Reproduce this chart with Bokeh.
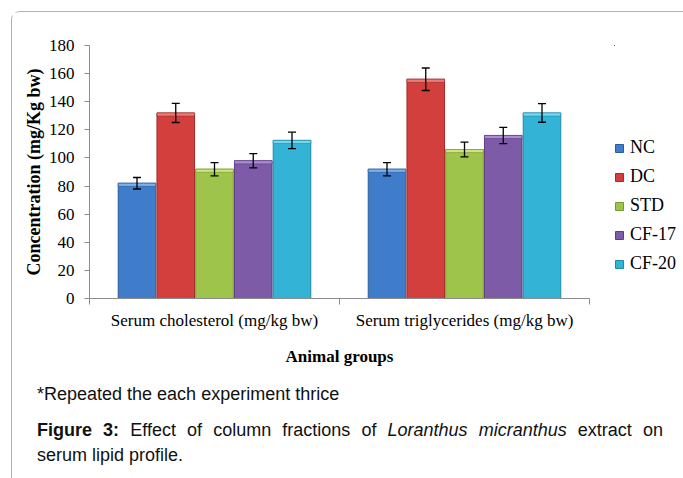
from bokeh.plotting import figure
from bokeh.layouts import column, row
from bokeh.models import (Range1d, FixedTicker, ColumnDataSource, Div,
                          Whisker, TeeHead, Legend, LegendItem)
from bokeh.transform import dodge
from bokeh.embed import file_html
from bokeh.resources import INLINE

# ---- data ----
categories = ["Serum cholesterol (mg/kg bw)", "Serum triglycerides (mg/kg bw)"]
groups = ["NC", "DC", "STD", "CF-17", "CF-20"]
cholesterol = [82, 132, 92, 98, 112.5]
triglycerides = [92, 156, 106, 116, 132]
cholesterol_err = [4.1, 6.8, 4.7, 5.1, 5.8]
triglycerides_err = [4.7, 8.0, 5.3, 5.8, 6.6]
y_ticks = [0, 20, 40, 60, 80, 100, 120, 140, 160, 180]

colors = ["#3F7DCB", "#D33F3C", "#9EC44B", "#7E5BA7", "#33B4D6"]
caps = ["#7DB2EE", "#EC7C78", "#CFE57A", "#AE8BD6", "#79D8F0"]
edges = ["#2B5C9C", "#A32C2A", "#769A33", "#5C3F82", "#1F8AA6"]

SERIF = "Liberation Serif"
SANS = "Liberation Sans"

BAR_W = 0.155  # width of one bar in category units

cat_pos = [i + 0.5 for i in range(len(categories))]

p = figure(width=602, height=358, x_range=Range1d(0, len(categories)), y_range=Range1d(0, 180),
           output_backend="svg", toolbar_location=None,
           min_border_left=77, min_border_right=25, min_border_top=33, min_border_bottom=72)
p.outline_line_color = None
p.xgrid.visible = False
p.ygrid.visible = False
p.background_fill_color = "white"
p.border_fill_color = "white"

# y axis
ya = p.yaxis[0]
ya.ticker = FixedTicker(ticks=y_ticks)
ya.axis_label = "Concentration (mg/Kg bw)"
ya.axis_label_text_font = SERIF
ya.axis_label_text_font_style = "bold"
ya.axis_label_text_font_size = "18px"
ya.axis_label_text_color = "black"
ya.axis_label_standoff = 2
ya.major_label_text_font = SERIF
ya.major_label_text_font_size = "17px"
ya.major_label_text_color = "black"
ya.major_label_standoff = 10
ya.major_tick_out = 5
ya.major_tick_in = 0
ya.minor_tick_line_color = None
ya.axis_line_color = "#8C8C8C"
ya.major_tick_line_color = "#8C8C8C"

# x axis: labels at category centres, separator ticks at boundaries
xa = p.xaxis[0]
xa.ticker = FixedTicker(ticks=cat_pos, minor_ticks=list(range(len(categories) + 1)))
xa.major_label_overrides = {pos: c for pos, c in zip(cat_pos, categories)}
xa.major_tick_line_color = None
xa.major_tick_out = 0
xa.major_tick_in = 0
xa.minor_tick_out = 6
xa.minor_tick_in = 0
xa.minor_tick_line_color = "#8C8C8C"
xa.axis_line_color = "#8C8C8C"
xa.major_label_text_font = SERIF
xa.major_label_text_font_size = "17px"
xa.major_label_text_color = "black"
xa.major_label_standoff = 6
xa.axis_label = "Animal groups"
xa.axis_label_text_font = SERIF
xa.axis_label_text_font_style = "bold"
xa.axis_label_text_font_size = "17px"
xa.axis_label_text_color = "black"
xa.axis_label_standoff = 14

# legend lives in a small companion panel to the right of the plot frame
# (its key glyphs share the series data but fall outside this panel's ranges)
lf = figure(width=66, height=358, output_backend="svg", toolbar_location=None,
            x_axis_location=None, y_axis_location=None, min_border=0,
            x_range=Range1d(10, 11), y_range=Range1d(-2, -1))
lf.outline_line_color = None
lf.xgrid.visible = False
lf.ygrid.visible = False

items = []
values = list(zip(cholesterol, triglycerides))
errs = list(zip(cholesterol_err, triglycerides_err))
n = len(groups)
for i, g in enumerate(groups):
    v = list(values[i])
    e = list(errs[i])
    off = (i - (n - 1) / 2) * BAR_W
    src = ColumnDataSource(dict(
        cx=cat_pos,
        top=v,
        cap_bottom=[t - 2.2 for t in v],
        upper=[t + d for t, d in zip(v, e)],
        lower=[t - d for t, d in zip(v, e)],
    ))
    p.vbar(x=dodge("cx", off), top="top", bottom=0, width=BAR_W * 0.97, source=src,
           fill_color=colors[i], line_color=edges[i], line_width=1)
    p.vbar(x=dodge("cx", off), top="top", bottom="cap_bottom", width=BAR_W * 0.97, source=src,
           fill_color=caps[i], line_color=edges[i], line_width=0.6)
    w = Whisker(base=dodge("cx", off), upper="upper", lower="lower", source=src,
                level="annotation", line_color="black", line_width=1.3,
                upper_head=TeeHead(size=8, line_color="black", line_width=1.3),
                lower_head=TeeHead(size=8, line_color="black", line_width=1.3))
    p.add_layout(w)
    key = lf.vbar(x="cx", top="top", bottom=0, width=0.1, source=src,
                  fill_color=colors[i], line_color=edges[i], line_width=1)
    items.append(LegendItem(label=g, renderers=[key]))

legend = Legend(items=items, location=(0, 24), orientation="vertical",
                margin=0, padding=0, spacing=8, label_height=20,
                glyph_width=10, glyph_height=10, label_standoff=6,
                label_text_font=SERIF, label_text_font_size="18px",
                label_text_color="black",
                border_line_color=None, background_fill_alpha=0)
lf.add_layout(legend, "center")

caption_html = (
    '<div style="font-family:\'Liberation Sans\',Arial,sans-serif;font-size:18px;'
    'color:#111;line-height:25px;margin-left:20px;width:626px;">'
    '<div style="margin-top:7px;">*Repeated the each experiment thrice</div>'
    '<div style="margin-top:11px;text-align:justify;text-align-last:justify;">'
    '<b>Figure 3:</b> Effect of column fractions of <i>Loranthus micranthus</i> extract on</div>'
    '<div>serum lipid profile.</div>'
    '</div>'
)
cap_div = Div(text=caption_html, width=668, height=105)

root = column(row(p, lf, spacing=0), cap_div, spacing=0, margin=(11, 0, 0, 11),
              styles={"border-left": "1px solid #B0B0B0", "border-top": "1px solid #B0B0B0",
                      "border-top-left-radius": "9px"})

open("out.html", "w").write(file_html(root, INLINE))
